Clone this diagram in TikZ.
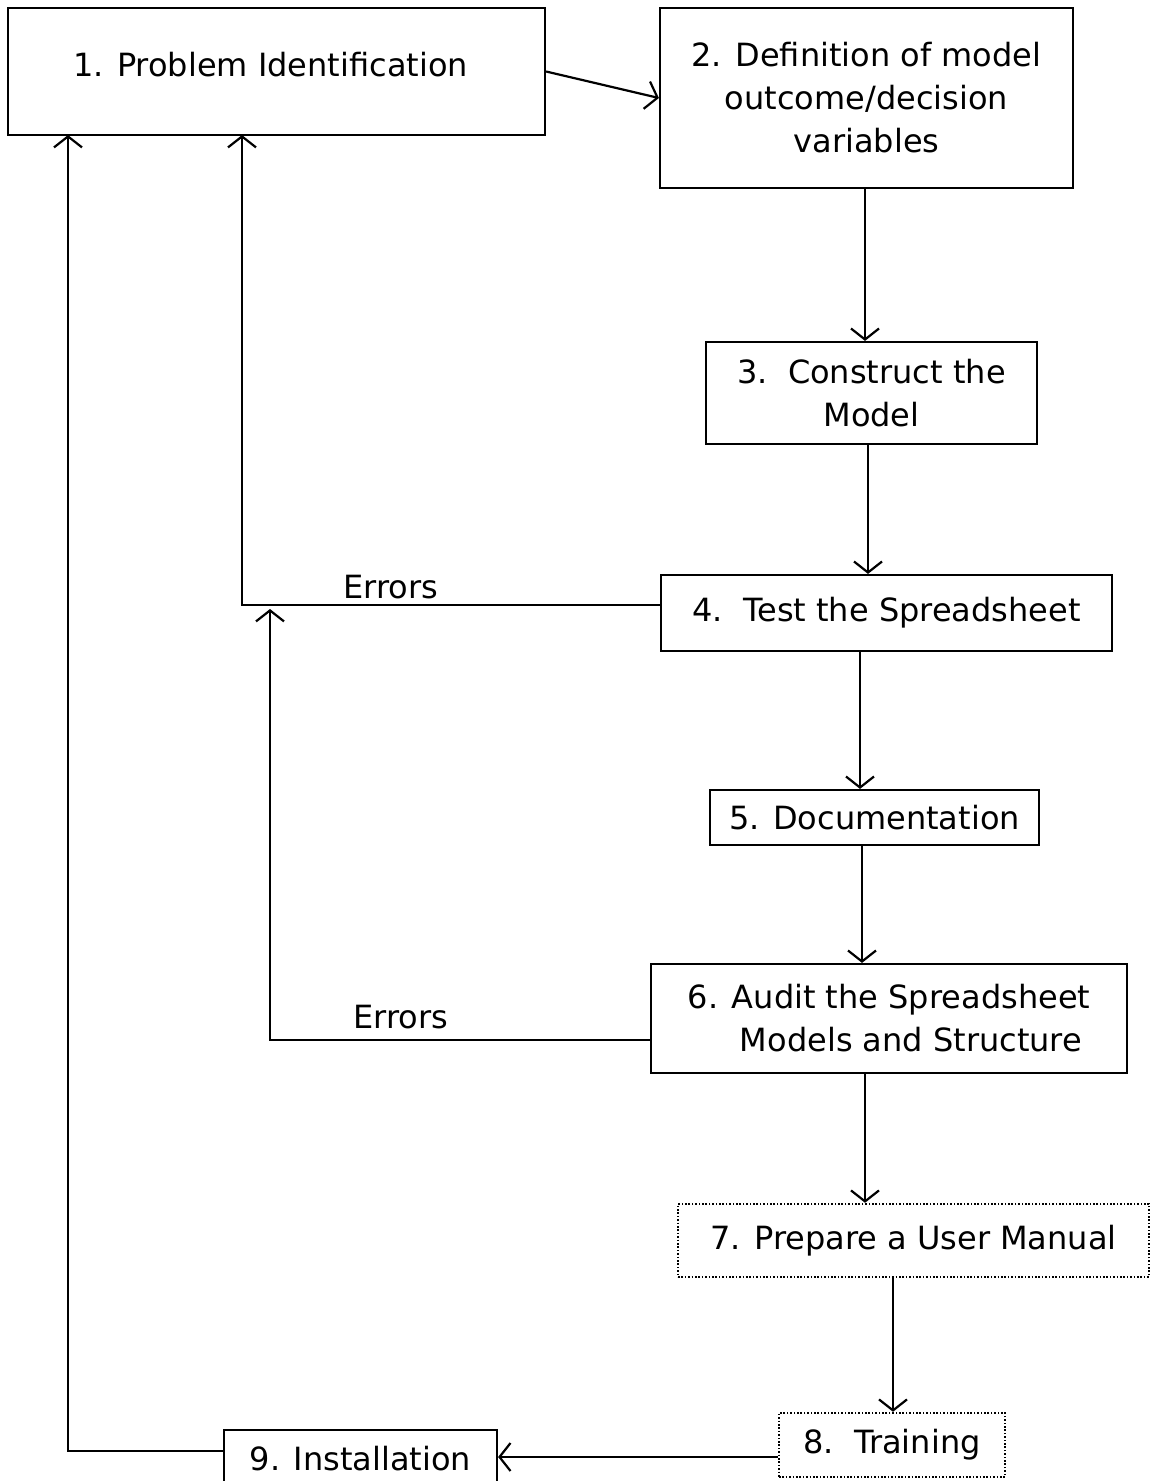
\documentclass[tikz,border=0pt]{standalone}
\usepackage{fontspec}
\setmainfont{DejaVu Sans}
\usetikzlibrary{arrows.meta}
\tikzset{
  box/.style={draw, line width=2.2pt, inner sep=0pt, align=center, font=\fontsize{32}{43}\selectfont},
  dotbox/.style={box, dash pattern=on 1.6pt off 1.8pt, line width=2.4pt},
  arr/.style={draw, line width=2.2pt, -{Straight Barb[length=11pt,width=28pt,line width=2.2pt]}},
  lbl/.style={font=\fontsize{32}{38}\selectfont, inner sep=0pt}
}
\begin{document}
\begin{tikzpicture}[x=1pt,y=-1pt]
\useasboundingbox (0,0) rectangle (1154,1481);
\node[box, minimum width=537, minimum height=127] (n1) at (276.5,71.5) {\raisebox{15pt}{\hspace*{-12pt}1. Problem Identification}};
\node[box, minimum width=413, minimum height=180] (n2) at (866.5,98) {2. Definition of model\\outcome/decision\\variables};
\node[box, minimum width=331, minimum height=102] (n3) at (871.5,393) {3.\ \ Construct the\\Model};
\node[box, minimum width=451, minimum height=76] (n4) at (886.5,613) {4.\ \ Test the Spreadsheet};
\node[box, minimum width=329, minimum height=55] (n5) at (874.5,817.5) {5. Documentation};
\node[box, minimum width=476, minimum height=109] (n6) at (889,1018.5) {6. Audit the Spreadsheet\\\hspace*{44pt}Models and Structure};
\node[dotbox, minimum width=471, minimum height=73] (n7) at (913.5,1240.5) {7. Prepare a User Manual};
\node[dotbox, minimum width=226, minimum height=64] (n8) at (892,1445) {8.\ \ Training};
\node[box, minimum width=273, minimum height=56, text depth=0pt] (n9) at (360.5,1458) {9. Installation};
\node[lbl] (e1) at (391,587) {Errors};
\node[lbl] (e2) at (401,1017) {Errors};
\coordinate (t1) at (242,135);
\coordinate (t2) at (68,135);
\coordinate (t3) at (270,609);
\draw[arr] (n1.east) -- (n2.west);
\draw[arr] (n2.south -| 865,0) -- (n3.north -| 865,0);
\draw[arr] (n3.south -| 868,0) -- (n4.north -| 868,0);
\draw[arr] (n4.south -| 860,0) -- (n5.north -| 860,0);
\draw[arr] (n5.south -| 862,0) -- (n6.north -| 862,0);
\draw[arr] (n6.south -| 865,0) -- (n7.north -| 865,0);
\draw[arr] (n7.south -| 893,0) -- (n8.north -| 893,0);
\draw[arr] (n8.west |- 0,1457) -- (n9.east |- 0,1457);
\draw[arr] (n9.west |- 0,1451) -| (t2);
\draw[arr] (n4.west |- 0,605) -| (t1);
\draw[arr] (n6.west |- 0,1040) -| (t3);
\end{tikzpicture}
\end{document}
